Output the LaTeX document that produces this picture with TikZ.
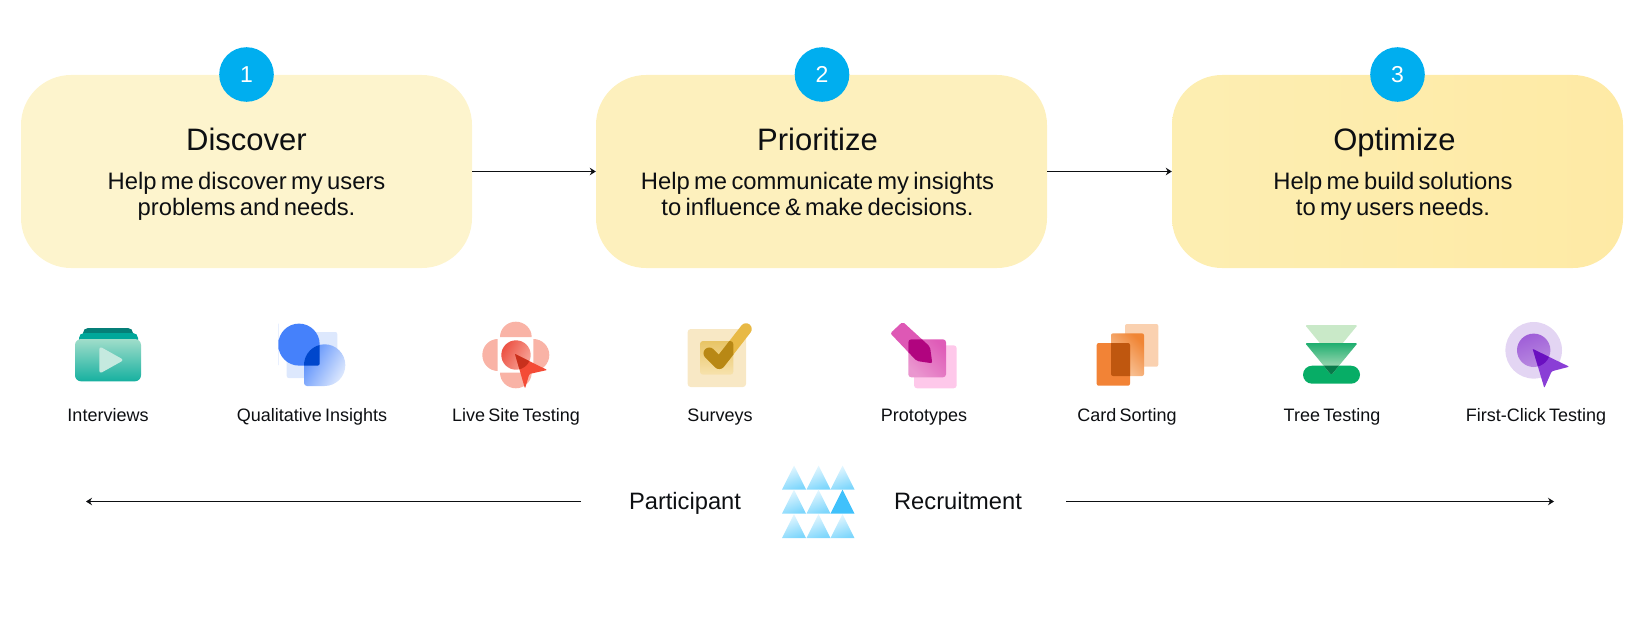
\documentclass[tikz,border=0pt]{standalone}
\usepackage{fontspec}
\setmainfont[WordSpace=0.65]{Liberation Sans}
\usetikzlibrary{arrows.meta}
\definecolor{ink}{HTML}{0D0F12}
\definecolor{badgeblue}{HTML}{00AEEF}
\definecolor{trib}{RGB}{64,193,251}
\definecolor{tria}{RGB}{232,248,255}
\definecolor{tric}{RGB}{125,214,252}
\tikzset{
 x=1pt,y=-1pt,
 card/.style={rounded corners=50pt,minimum width=451pt,minimum height=193pt,inner sep=0pt},
 badge/.style={circle,fill=badgeblue,minimum size=54.6pt,inner sep=0pt,text=white,font=\fontsize{23}{26}\selectfont},
 title/.style={text=ink,inner sep=0pt,anchor=base,font=\fontsize{31}{34}\selectfont},
 desc/.style={text=ink,inner sep=0pt,align=center,anchor=base,font=\fontsize{23.8}{26}\selectfont},
 lab/.style={text=ink,inner sep=0pt,anchor=base,font=\fontsize{18}{20}\selectfont},
 rec/.style={text=ink,inner sep=0pt,anchor=base,font=\fontsize{23.7}{26}\selectfont},
 conn/.style={draw=ink,line width=1.6pt,-{Stealth[length=6pt,width=7.5pt,inset=2pt]}},
}
\newcommand{\tri}[2]{\shade[top color=tria,bottom color=tric,shading angle=20] (#1,#2+24) -- (#1+12,#2) -- (#1+24,#2+24) -- cycle;}
\begin{document}
\begin{tikzpicture}
\useasboundingbox (0,0) rectangle (1644,618);
% cards
\node[card,fill={rgb,255:red,253;green,244;blue,205}] (c1) at (246.5,171.5) {};
\node[card,fill={rgb,255:red,253;green,240;blue,189}] (c2) at (821.5,171.5) {};
\node[card,left color={rgb,255:red,253;green,238;blue,178},right color={rgb,255:red,254;green,234;blue,165}] (c3) at (1397.5,171.5) {};
\node[badge] (b1) at (246.5,74.5) {1};
\node[badge] (b2) at (822,74.5) {2};
\node[badge] (b3) at (1397.5,74.5) {3};
\node[title] (t1) at (246.5,150.7) {Discover};
\node[title] (t2) at (817.5,150.7) {Prioritize};
\node[title] (t3) at (1394.5,150.7) {Optimize};
\node[desc] (d1) at (246.5,215) {Help me discover my users\\problems and needs.};
\node[desc] (d2) at (817.5,215) {Help me communicate my insights\\to influence \& make decisions.};
\node[desc] (d3) at (1393,215) {Help me build solutions\\to my users needs.};
\draw[conn] (c1) -- (c2);
\draw[conn] (c2) -- (c3);

% Interviews
\fill[rounded corners=5pt,fill={rgb,255:red,5;green,127;blue,120}] (83,342) rectangle (133,328);
\fill[rounded corners=5pt,fill={rgb,255:red,0;green,167;blue,154}] (79,345) rectangle (138,333);
\shade[rounded corners=6pt,top color={rgb,255:red,160;green,221;blue,202},bottom color={rgb,255:red,22;green,176;blue,160}] (75,339) rectangle (141,381.3);
\fill[rounded corners=3pt,fill={rgb,255:red,197;green,233;blue,223}] (99.3,346.2) -- (99.3,373.8) -- (124,360) -- cycle;
\node[lab] (l1) at (108,421) {Interviews};

% Qualitative Insights
\fill[rounded corners=2pt,fill={rgb,255:red,221;green,232;blue,253}] (286.7,332) rectangle (337.3,378);
\fill[fill={rgb,255:red,69;green,129;blue,251}] (278.3,344.3) [rounded corners=20.7pt] -- (278.3,323.6) -- (319.7,323.6) [sharp corners] -- (319.7,344.3) [rounded corners=2pt] -- (319.7,365.6) [rounded corners=20.7pt] -- (278.3,365.6) -- cycle;
\shade[left color={rgb,255:red,90;green,143;blue,251},right color={rgb,255:red,221;green,232;blue,253},shading angle=60] (304,365) [rounded corners=20.7pt] -- (304,344.3) -- (345.3,344.3) -- (345.3,386) [rounded corners=3pt] -- (304,386) -- cycle;
\begin{scope}
\clip (304,365) [rounded corners=20.7pt] -- (304,344.3) -- (345.3,344.3) -- (345.3,386) [rounded corners=3pt] -- (304,386) -- cycle;
\fill[fill={rgb,255:red,0;green,71;blue,204}] (278.3,344.3) [rounded corners=20.7pt] -- (278.3,323.6) -- (319.7,323.6) [sharp corners] -- (319.7,344.3) [rounded corners=2pt] -- (319.7,365.6) [rounded corners=20.7pt] -- (278.3,365.6) -- cycle;
\end{scope}
\node[lab] (l2) at (312,421) {Qualitative Insights};

% Live Site Testing
\definecolor{pet}{RGB}{249,179,166}
\fill[pet] (500,337) .. controls (500,328.5) and (507,321.7) .. (515.8,321.7) .. controls (524.6,321.7) and (531.7,328.5) .. (531.7,337) -- cycle;
\fill[pet] (500,372.7) .. controls (500,381.3) and (507,388.3) .. (515.8,388.3) .. controls (524.6,388.3) and (531.7,381.3) .. (531.7,372.7) -- cycle;
\fill[pet] (497.7,339) .. controls (489.2,339) and (482.3,346.2) .. (482.3,355) .. controls (482.3,363.8) and (489.2,371) .. (497.7,371) -- cycle;
\fill[pet] (533.3,339) .. controls (542.2,339) and (549.3,346.2) .. (549.3,355) .. controls (549.3,363.8) and (542.2,371) .. (533.3,371) -- cycle;
\shade[left color={rgb,255:red,236;green,82;blue,68},right color={rgb,255:red,247;green,165;blue,152},shading angle=60] (516,355) circle (14.7);
\fill[fill={rgb,255:red,244;green,75;blue,54},rounded corners=1pt] (515,354) -- (547.3,370) -- (529.3,374) -- (525,388.7) -- cycle;
\begin{scope}
\clip (516,355) circle (14.7);
\fill[fill={rgb,255:red,200;green,48;blue,28}] (515,354) -- (547.3,370) -- (529.3,374) -- (525,388.7) -- cycle;
\end{scope}
\node[lab] (l3) at (516,421) {Live Site Testing};

% Surveys
\fill[rounded corners=3pt,fill={rgb,255:red,248;green,232;blue,197}] (687.7,329) rectangle (746,387);
\shade[rounded corners=3pt,top color={rgb,255:red,232;green,196;blue,101},bottom color={rgb,255:red,247;green,226;blue,173}] (700,341) rectangle (733.3,374.7);
\draw[line width=11.5pt,line cap=round,line join=round,draw={rgb,255:red,232;green,185;blue,69}] (709.3,353.3) -- (719.3,363.3) -- (746,329);
\begin{scope}
\clip[rounded corners=3pt] (700,341) rectangle (733.3,374.7);
\draw[line width=11.5pt,line cap=round,line join=round,draw={rgb,255:red,184;green,136;blue,21}] (709.3,353.3) -- (719.3,363.3) -- (746,329);
\end{scope}
\node[lab] (l4) at (720,421) {Surveys};

% Prototypes
\fill[rounded corners=3pt,fill={rgb,255:red,254;green,200;blue,234}] (914,345.3) rectangle (956.7,388.3);
\fill[rounded corners=2pt,fill={rgb,255:red,222;green,88;blue,181}] (902.7,321.7) -- (890.3,333.3) -- (916.7,361) -- (932.3,363.3) -- (930,346.7) -- cycle;
\shade[rounded corners=3pt,left color={rgb,255:red,234;green,150;blue,207},right color={rgb,255:red,223;green,92;blue,184},shading angle=135] (908.3,339.3) rectangle (946,377.3);
\begin{scope}
\clip[rounded corners=3pt] (908.3,339.3) rectangle (946,377.3);
\fill[rounded corners=2pt,fill={rgb,255:red,177;green,4;blue,127}] (902.7,321.7) -- (890.3,333.3) -- (916.7,361) -- (932.3,363.3) -- (930,346.7) -- cycle;
\end{scope}
\node[lab] (l5) at (924,421) {Prototypes};

% Card Sorting
\fill[rounded corners=2pt,fill={rgb,255:red,250;green,209;blue,176}] (1125,324) rectangle (1158.3,366.7);
\shade[rounded corners=2pt,left color={rgb,255:red,249;green,205;blue,168},right color={rgb,255:red,240;green,133;blue,53},shading angle=135] (1111,333.3) rectangle (1144,376);
\fill[rounded corners=2pt,fill={rgb,255:red,242;green,131;blue,54}] (1096.7,343) rectangle (1130,385.7);
\begin{scope}
\clip[rounded corners=2pt] (1096.7,343) rectangle (1130,385.7);
\fill[rounded corners=2pt,fill={rgb,255:red,191;green,87;blue,15}] (1111,333.3) rectangle (1144,376);
\end{scope}
\node[lab] (l6) at (1127,421) {Card Sorting};

% Tree Testing
\fill[rounded corners=1.5pt,fill={rgb,255:red,201;green,233;blue,200}] (1305,325) -- (1357.7,325) -- (1331.3,357) -- cycle;
\fill[rounded corners=9pt,fill={rgb,255:red,7;green,173;blue,102}] (1303,365.7) rectangle (1360,383.7);
\shade[rounded corners=1.5pt,top color={rgb,255:red,31;green,174;blue,111},bottom color={rgb,255:red,201;green,230;blue,202}] (1305,343) -- (1357.7,343) -- (1331.3,375) -- cycle;
\begin{scope}
\clip[rounded corners=9pt] (1303,365.7) rectangle (1360,383.7);
\fill[rounded corners=1.5pt,fill={rgb,255:red,8;green,122;blue,74}] (1305,343) -- (1357.7,343) -- (1331.3,375) -- cycle;
\end{scope}
\node[lab] (l7) at (1332,421) {Tree Testing};

% First-Click Testing
\fill[fill={rgb,255:red,227;green,213;blue,243}] (1533.7,350.3) circle (28.3);
\shade[left color={rgb,255:red,159;green,94;blue,216},right color={rgb,255:red,185;green,139;blue,224},shading angle=20] (1533.7,350.3) circle (16.7);
\fill[rounded corners=1pt,fill={rgb,255:red,138;green,62;blue,214}] (1532.7,349) -- (1569.3,366.7) -- (1551.7,371.3) -- (1544.3,388) -- cycle;
\begin{scope}
\clip (1533.7,350.3) circle (16.7);
\fill[fill={rgb,255:red,106;green,16;blue,192}] (1532.7,349) -- (1569.3,366.7) -- (1551.7,371.3) -- (1544.3,388) -- cycle;
\end{scope}
\node[lab] (l8) at (1536,421) {First-Click Testing};

% Recruitment row
\foreach \x in {782,806.5,830.5}{\tri{\x}{465.5}\tri{\x}{514.2}}
\tri{782}{489.7}\tri{806.5}{489.7}
\fill[trib] (830.5,513.7) -- (842.5,489.7) -- (854.5,513.7) -- cycle;
\node[rec] (p) at (685,509) {Participant};
\node[rec] (r) at (958,509) {Recruitment};
\coordinate (pl) at (581,501.5);
\coordinate (pe) at (86,501.5);
\coordinate (rl) at (1066,501.5);
\coordinate (re) at (1554,501.5);
\draw[conn] (pl) -- (pe);
\draw[conn] (rl) -- (re);
\end{tikzpicture}
\end{document}
